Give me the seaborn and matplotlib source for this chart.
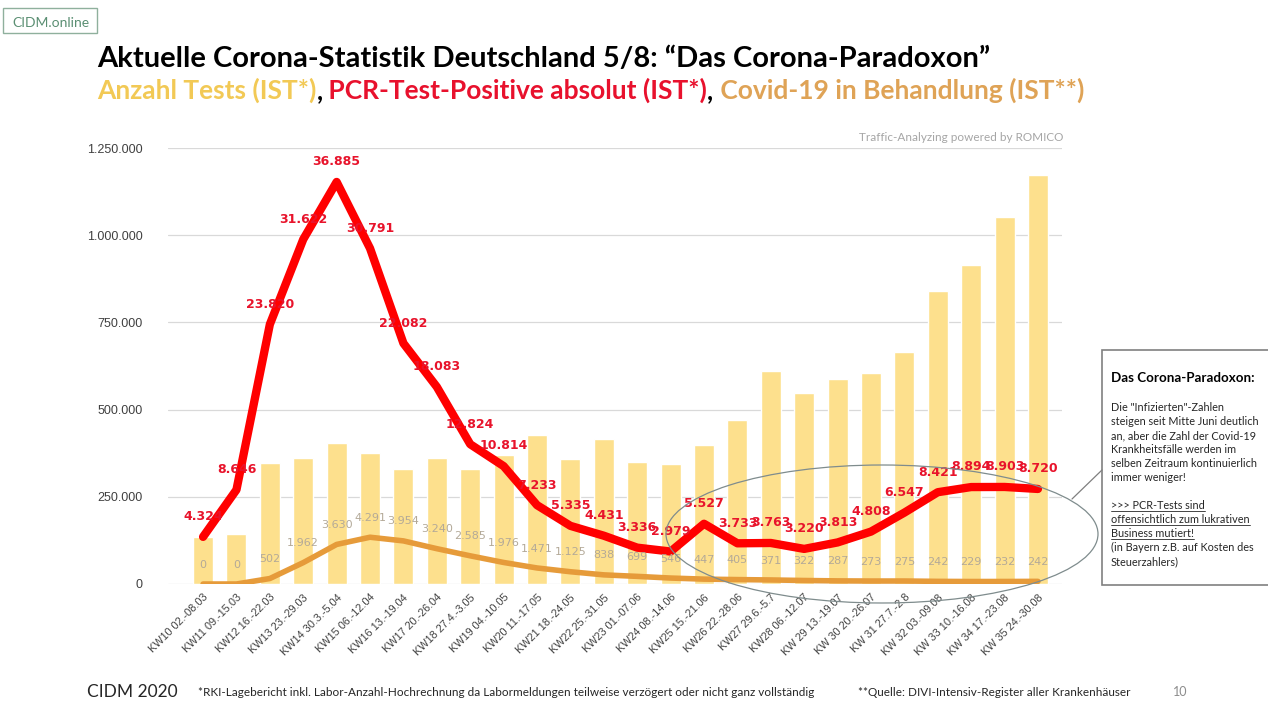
import numpy as np
import pandas as pd
import matplotlib
matplotlib.use('Agg')
import matplotlib.pyplot as plt
import seaborn as sns
from matplotlib.patches import Ellipse, Rectangle
from matplotlib.lines import Line2D

# Kalenderwochen 2020
wochen = ['KW10 02.-08.03', 'KW11 09.-15.03', 'KW12 16.-22.03', 'KW13 23.-29.03',
          'KW14 30.3.-5.04', 'KW15 06.-12.04', 'KW16 13.-19.04', 'KW17 20.-26.04',
          'KW18 27.4.-3.05', 'KW19 04.-10.05', 'KW20 11.-17.05', 'KW21 18.-24.05',
          'KW22 25.-31.05', 'KW23 01.-07.06', 'KW24 08.-14.06', 'KW25 15.-21.06',
          'KW26 22.-28.06', 'KW27 29.6.-5.7', 'KW28 06.-12.07', 'KW 29 13.-19.07',
          'KW 30 20.-26.07', 'KW 31 27.7.-2.8', 'KW 32 03.-09.08', 'KW 33 10.-16.08',
          'KW 34 17.-23.08', 'KW 35 24.-30.08']

# Anzahl Tests (Balken, aus dem Bild geschaetzt)
tests = [135000, 143000, 347000, 361000, 404000, 375000, 329000, 361000, 329000,
         370000, 427000, 358000, 415000, 350000, 344000, 398000, 470000, 610000,
         547000, 587000, 605000, 665000, 840000, 914000, 1051000, 1172000]

# PCR-Test-Positive absolut
positive = [4324, 8646, 23820, 31622, 36885, 30791, 22082, 18083, 12824, 10814,
            7233, 5335, 4431, 3336, 2979, 5527, 3733, 3763, 3220, 3813, 4808,
            6547, 8421, 8894, 8903, 8720]

# Covid-19 in Behandlung
behandlung = [0, 0, 502, 1962, 3630, 4291, 3954, 3240, 2585, 1976, 1471, 1125, 838,
              699, 546, 447, 405, 371, 322, 287, 273, 275, 242, 229, 232, 242]

box_zeilen = ['Die "Infizierten"-Zahlen',
              'steigen seit Mitte Juni deutlich',
              'an, aber die Zahl der Covid-19',
              'Krankheitsfälle werden im',
              'selben Zeitraum kontinuierlich',
              'immer weniger!',
              '',
              '>>> PCR-Tests sind',
              'offensichtlich zum lukrativen',
              'Business mutiert!',
              '(in Bayern z.B. auf Kosten des',
              'Steuerzahlers)']

W, H = 1268, 704


def de(v):
    return f'{v:,}'.replace(',', '.')


def fx(px):
    return px / W


def fy(py):
    return 1 - py / H


sns.set_theme(style='white')
plt.rcParams['font.family'] = ['Liberation Sans', 'DejaVu Sans']

fig = plt.figure(figsize=(W / 100, H / 100), dpi=100)
ax = fig.add_axes([fx(168), fy(584), fx(1062 - 168), 436 / H])

df = pd.DataFrame({'kw': wochen, 'tests': tests})
sns.barplot(data=df, x='kw', y='tests', ax=ax, color='#FDE08D', saturation=1,
            width=0.6, zorder=2)
ax.set_ylim(0, 1250000)
ax.set_yticks(np.arange(0, 1250001, 250000))
ax.set_yticklabels([de(v) for v in ax.get_yticks().astype(int)])
ax.set_xlim(-1.05, 25.72)
ax.set_xlabel('')
ax.set_ylabel('')
ax.grid(axis='y', color='#d9d9d9', lw=0.9)
ax.set_axisbelow(True)
sns.despine(ax=ax, left=True, bottom=True)
ax.tick_params(axis='y', length=0, labelsize=9, colors='#404040', pad=18)
ax.set_xticks(range(len(wochen)))
ax.set_xticklabels(wochen, rotation=45, ha='right', rotation_mode='anchor',
                   fontsize=7.8, color='#404040')
ax.tick_params(axis='x', length=0, pad=6)

ax2 = ax.twinx()
pos = np.arange(len(wochen))
sns.lineplot(x=pos, y=behandlung, ax=ax2, color='#E69B3A', lw=4,
             solid_capstyle='round', solid_joinstyle='round')
sns.lineplot(x=pos, y=positive, ax=ax2, color='#FF0000', lw=6,
             solid_capstyle='round', solid_joinstyle='round')
ax2.set_ylim(0, 40000)
ax2.set_axis_off()

for i, v in enumerate(behandlung):
    ax2.annotate(de(v), (i, v), xytext=(0, 14), textcoords='offset points',
                 ha='center', va='center', fontsize=8, color='#B3A998',
                 family='DejaVu Sans')
for i, v in enumerate(positive):
    ax2.annotate(de(v), (i, v), xytext=(0, 14.5), textcoords='offset points',
                 ha='center', va='center', fontsize=9, fontweight='bold',
                 color='#E8132B', family='DejaVu Sans')

# Titel
fig.text(fx(97), fy(67), 'Aktuelle Corona-Statistik Deutschland 5/8: \u201cDas Corona-Paradoxon\u201d',
         fontsize=21, fontweight='bold', color='black', family='Lato', va='baseline')

renderer = fig.canvas.get_renderer()
x = 97
for s, c in [('Anzahl Tests (IST*)', '#F2C955'), (',', 'black'),
             (' PCR-Test-Positive absolut (IST*)', '#E8112D'), (',', 'black'),
             (' Covid-19 in Behandlung (IST**)', '#DFA356')]:
    t = fig.text(fx(x), fy(99), s, fontsize=19, fontweight='bold', color=c,
                 family='Lato', va='baseline')
    x = t.get_window_extent(renderer).x1

# Logo oben links
fig.add_artist(Rectangle((fx(3), fy(33)), fx(94), 25 / H, transform=fig.transFigure,
                         fill=False, edgecolor='#8FB09D', lw=1))
fig.text(fx(12), fy(27), 'CIDM.online', fontsize=10, color='#5B8F73', family='Lato',
         va='baseline')

fig.text(fx(1063), fy(141), 'Traffic-Analyzing powered by ROMICO', fontsize=8.5,
         color='#A6A6A6', family='Lato', ha='right', va='baseline')

# Ellipse + Verbindungslinie + Textbox
fig.add_artist(Ellipse((fx(882), fy(534)), fx(432), 138 / H, transform=fig.transFigure,
                       fill=False, edgecolor='#7F8C8D', lw=0.9))
fig.add_artist(Line2D([fx(1072), fx(1102)], [fy(499), fy(470)], transform=fig.transFigure,
                      color='#7F7F7F', lw=0.9))
fig.add_artist(Rectangle((fx(1102), fy(585)), fx(170), 235 / H, transform=fig.transFigure,
                         facecolor='white', edgecolor='#808080', lw=1.2))
fig.text(fx(1111), fy(382), 'Das Corona-Paradoxon:', fontsize=9.6, fontweight='bold',
         color='black', family='Lato', va='baseline')
for k, zeile in enumerate(box_zeilen):
    t = fig.text(fx(1111), fy(411 + 14 * k), zeile, fontsize=7.8, color='#262626',
                 family='Lato', va='baseline')
    if 7 <= k <= 9:
        bb = t.get_window_extent(renderer)
        fig.add_artist(Line2D([bb.x0 / W, bb.x1 / W], [fy(413 + 14 * k)] * 2,
                              transform=fig.transFigure, color='#262626', lw=0.6))

# Fusszeile
fig.text(fx(87), fy(697), 'CIDM 2020', fontsize=12.5, color='#262626', family='Lato',
         va='baseline')
fig.text(fx(198), fy(696),
         '*RKI-Lagebericht inkl. Labor-Anzahl-Hochrechnung da Labormeldungen teilweise '
         'verzögert oder nicht ganz vollständig', fontsize=8.5, color='#262626',
         family='Lato', va='baseline')
fig.text(fx(858), fy(696), '**Quelle: DIVI-Intensiv-Register aller Krankenhäuser',
         fontsize=8.5, color='#262626', family='Lato', va='baseline')
fig.text(fx(1173), fy(696), '10', fontsize=9, color='#8C8C8C', family='Lato',
         va='baseline')

fig.savefig('out.png', dpi=100)
